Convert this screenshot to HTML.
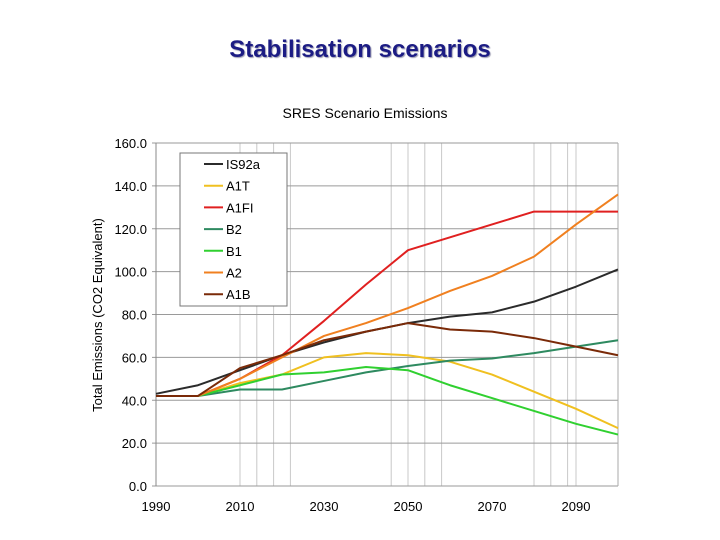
<!DOCTYPE html>
<html><head><meta charset="utf-8"><style>
body{margin:0;background:#fff;width:720px;height:540px;overflow:hidden;font-family:"Liberation Sans",sans-serif}
#title{position:absolute;left:0;width:720px;top:36px;text-align:center;font-size:24px;font-weight:bold;color:#1c1c84;text-shadow:1px 1px 1px #9a9ab0}
</style></head><body>
<div id="title">Stabilisation scenarios</div>
<svg id="c" width="720" height="540" style="position:absolute;left:0;top:0"></svg>
<script>
const years=[1990,2000,2010,2020,2030,2040,2050,2060,2070,2080,2090,2100];
const IS92a=[43,47,54,61,67,72,76,79,81,86,93,101];
const A1T=[42,42,48,52,60,62,61,58,52,44,36,27];
const A1FI=[42,42,50,61,77,94,110,116,122,128,128,128];
const B2=[42,42,45,45,49,53,56,58.5,59.5,62,65,68];
const B1=[42,42,47,52,53,55.5,54,47,41,35,29,24];
const A2=[42,42,50,60,70,76,83,91,98,107,122,136];
const A1B=[42,42,55,61,68,72,76,73,72,69,65,61];
const seriesNames=["IS92a","A1T","A1FI","B2","B1","A2","A1B"];
const seriesData=[IS92a,A1T,A1FI,B2,B1,A2,A1B];
const colors=["#2b2b2b","#f0c020","#e02020","#2e8a60","#30d030","#f08020","#7a2a08"];
const yTicks=[0,20,40,60,80,100,120,140,160];
const xTicks=[1990,2010,2030,2050,2070,2090];
const gridYears=[2010,2014,2018,2022,2046,2050,2054,2058,2080,2084,2088,2090,2100];
const X=y=>156+(y-1990)*4.2, Y=v=>486-v*2.14375;
const svg=document.getElementById('c'),NS="http://www.w3.org/2000/svg";
function mk(t,a,p){const e=document.createElementNS(NS,t);for(const k in a)e.setAttribute(k,a[k]);(p||svg).appendChild(e);return e;}
let t=mk('text',{x:365,y:118,'text-anchor':'middle','font-size':14,fill:'#000'});t.textContent="SRES Scenario Emissions";


gridYears.forEach(g=>{const l=mk('line',{x1:X(g),x2:X(g),y1:Y(160),y2:Y(0),stroke:'#c8c8c8','stroke-width':1});

});
yTicks.forEach(v=>{const l=mk('line',{x1:X(1990)-4,x2:X(2100),y1:Y(v),y2:Y(v),stroke:'#9a9a9a','stroke-width':1});


const tx=mk('text',{x:147,y:Y(v)+5,'text-anchor':'end','font-size':13,fill:'#000'});tx.textContent=v.toFixed(1);

});
mk('line',{x1:X(1990),x2:X(1990),y1:Y(160),y2:Y(0),stroke:'#888'});
mk('line',{x1:X(2100),x2:X(2100),y1:Y(160),y2:Y(0),stroke:'#aaa'});
xTicks.forEach(y=>{const tx=mk('text',{x:X(y),y:511,'text-anchor':'middle','font-size':13,fill:'#000'});tx.textContent=y;

});
const yt=mk('text',{x:0,y:0,transform:'translate(102,315) rotate(-90)','text-anchor':'middle','font-size':13,fill:'#000'});yt.textContent="Total Emissions (CO2 Equivalent)";


seriesData.forEach((d,i)=>{const p=mk('polyline',{points:d.map((v,j)=>X(years[j])+','+Y(v)).join(' '),fill:'none',stroke:colors[i],'stroke-width':2,'stroke-linejoin':'round'});

});
const lg=mk('g',{});


mk('rect',{x:180,y:153,width:107,height:153,fill:'#fff',stroke:'#777'},lg);
seriesNames.forEach((n,i)=>{const yy=164+i*21.7;
mk('line',{x1:204,x2:223,y1:yy,y2:yy,stroke:colors[i],'stroke-width':2},lg);
const tx=mk('text',{x:226,y:yy+5,'font-size':13,fill:'#000'},lg);tx.textContent=n;

});
</script>
</body></html>
